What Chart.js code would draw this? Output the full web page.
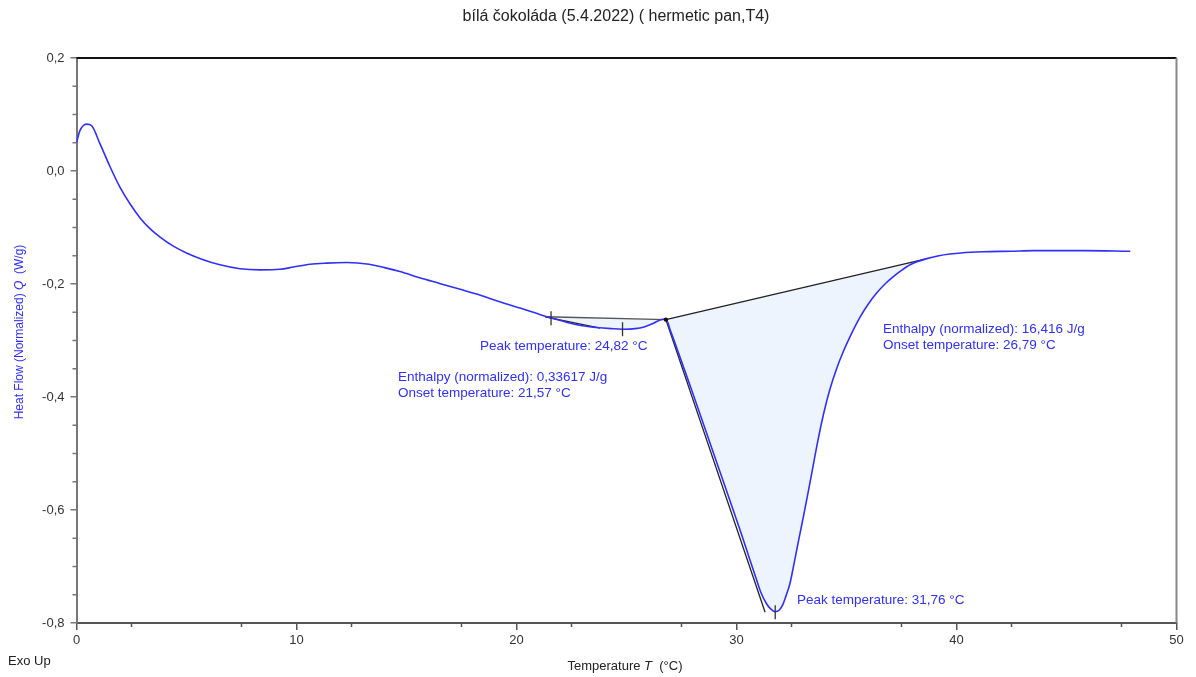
<!DOCTYPE html>
<html>
<head>
<meta charset="utf-8">
<title>bílá čokoláda DSC</title>
<script src="https://cdn.jsdelivr.net/npm/chart.js@4.4.1/dist/chart.umd.min.js"></script>
<style>
  html, body { margin: 0; padding: 0; background: #fff; }
  canvas { display: block; }
</style>
</head>
<body>
<canvas id="dscChart" width="1196" height="677"></canvas>
<script>
(function() {

    // DSC run: temperature (°C) and normalized heat flow (W/g)
    const temps = [0, 0.15, 0.3, 0.46, 0.69, 1.07, 1.52, 1.98, 2.43, 2.89, 3.34, 3.8, 4.4, 5.0, 5.76, 6.52, 7.43, 8.34, 9.25, 9.86,
        10.61, 11.37, 12.28, 13.3, 14.0, 14.7, 15.6, 16.5, 17.4, 18.3, 19.2, 20.2, 21.0, 21.3, 21.57, 22.3, 23.0, 23.64, 24.3, 24.82,
        25.4, 25.8, 26.2, 26.5, 26.79, 27.0, 27.3, 27.6, 28.0, 28.65, 29.2, 29.7, 30.2, 30.6, 30.9, 31.1, 31.35, 31.55, 31.76, 31.95,
        32.1, 32.25, 32.43, 32.58, 32.74, 32.89, 33.05, 33.19, 33.42, 33.65, 33.8, 34.0, 34.25, 34.55, 34.85, 35.2, 35.61, 36.0, 36.37, 36.75,
        37.13, 37.5, 37.89, 38.25, 38.57, 39.2, 39.7, 40.2, 41.2, 42.5, 43.5, 45.8, 47.9];
    const heatFlow = [0.050, 0.071, 0.080, 0.083, 0.080, 0.048, 0.008, -0.029, -0.058, -0.083, -0.102, -0.117, -0.133, -0.145, -0.157, -0.166, -0.173, -0.175, -0.174, -0.170,
        -0.165, -0.163, -0.162, -0.165, -0.171, -0.178, -0.189, -0.199, -0.209, -0.219, -0.231, -0.243, -0.253, -0.257, -0.260, -0.268, -0.274, -0.277, -0.279, -0.280,
        -0.279, -0.276, -0.270, -0.264, -0.262, -0.283, -0.315, -0.348, -0.392, -0.465, -0.527, -0.583, -0.640, -0.687, -0.722, -0.745, -0.765, -0.775, -0.780, -0.777,
        -0.768, -0.752, -0.730, -0.702, -0.670, -0.641, -0.610, -0.582, -0.535, -0.487, -0.458, -0.423, -0.386, -0.350, -0.320, -0.290, -0.259, -0.235, -0.216, -0.200,
        -0.187, -0.176, -0.166, -0.160, -0.156, -0.150, -0.147, -0.145, -0.143, -0.142, -0.141, -0.141, -0.142];

    // evaluation results for the two endotherms
    const peakTemps = [24.82, 31.76];
    const peakFlow = [-0.280, -0.781];
    const onsetTemps = [21.57, 26.79];
    const onsetFlow = [-0.2605, -0.263];
    const enthalpies = [0.33617, 16.416];

    // integration baselines and onset tangents
    const baseSmallT = [21.3, 26.79];
    const baseSmallQ = [-0.258, -0.263];
    const baseBigT = [26.79, 38.57];
    const baseBigQ = [-0.263, -0.156];
    const tanSmallT = [21.3, 23.8];
    const tanSmallQ = [-0.258, -0.278];
    const tanBigT = [26.79, 31.3];
    const tanBigQ = [-0.263, -0.781];

    const xTickValues = [0, 10, 20, 30, 40, 50];
    const yTickValues = [-0.8, -0.6, -0.4, -0.2, 0, 0.2];

    const FONT = "'Liberation Sans', Arial, sans-serif";
    const BLUE = '#2f2fff';
    const FILL = '#edf4fd';

    const pts = (xs, ys) => xs.map((x, i) => ({ x: x, y: ys[i] }));
    const between = (lo, hi) => pts(temps, heatFlow).filter(p => p.x >= lo && p.x <= hi);
    const comma = (v, d) => v.toFixed(d).replace('.', ',');

    const lineDs = (data, color, width, order) => ({
        data: data,
        borderColor: color,
        borderWidth: width,
        pointRadius: 0,
        fill: false,
        order: order
    });

    // text placed in data units: [x °C, y W/g]
    const notes = [
        { at: [18.34, -0.310], text: 'Peak temperature: ' + comma(peakTemps[0], 2) + ' °C' },
        { at: [14.61, -0.3655], text: 'Enthalpy (normalized): ' + comma(enthalpies[0], 5) + ' J/g' },
        { at: [14.61, -0.393], text: 'Onset temperature: ' + comma(onsetTemps[0], 2) + ' °C' },
        { at: [36.66, -0.2796], text: 'Enthalpy (normalized): ' + comma(enthalpies[1], 3) + ' J/g' },
        { at: [36.66, -0.308], text: 'Onset temperature: ' + comma(onsetTemps[1], 2) + ' °C' },
        { at: [32.75, -0.760], text: 'Peak temperature: ' + comma(peakTemps[1], 2) + ' °C' }
    ];

    // centred text made of normal / italic runs
    function drawParts(ctx, parts, size) {
        ctx.textAlign = 'left';
        let w = 0;
        parts.forEach(p => {
            ctx.font = (p[1] ? 'italic ' : '') + size + 'px ' + FONT;
            w += ctx.measureText(p[0]).width;
        });
        let x = -w / 2;
        parts.forEach(p => {
            ctx.font = (p[1] ? 'italic ' : '') + size + 'px ' + FONT;
            ctx.fillText(p[0], x, 0);
            x += ctx.measureText(p[0]).width;
        });
    }

    const frame = {
        id: 'frame',
        afterDraw(chart) {
            const ctx = chart.ctx;
            const a = chart.chartArea;
            const xs = chart.scales.x;
            const ys = chart.scales.y;
            ctx.save();

            // top and right edges of the plot box
            ctx.lineWidth = 2;
            ctx.strokeStyle = '#111';
            ctx.beginPath();
            ctx.moveTo(a.left, a.top);
            ctx.lineTo(a.right, a.top);
            ctx.stroke();
            ctx.strokeStyle = '#888';
            ctx.beginPath();
            ctx.moveTo(a.right, a.top);
            ctx.lineTo(a.right, a.bottom);
            ctx.stroke();

            // minor ticks
            ctx.lineWidth = 1.5;
            ctx.strokeStyle = '#555';
            for (let v = 2.5; v < 50; v += 5) {
                const px = xs.getPixelForValue(v);
                ctx.beginPath();
                ctx.moveTo(px, a.bottom);
                ctx.lineTo(px, a.bottom + 4);
                ctx.stroke();
            }
            ctx.strokeStyle = '#777';
            for (let i = 0; i < yTickValues.length - 1; i++) {
                for (let k = 1; k < 4; k++) {
                    const py = ys.getPixelForValue(yTickValues[i] + k * 0.05);
                    ctx.beginPath();
                    ctx.moveTo(a.left - 4, py);
                    ctx.lineTo(a.left, py);
                    ctx.stroke();
                }
            }

            // title
            ctx.fillStyle = '#222';
            ctx.textAlign = 'center';
            ctx.textBaseline = 'middle';
            ctx.font = '16px ' + FONT;
            ctx.fillText('bílá čokoláda (5.4.2022) ( hermetic pan,T4)', 616, 17);

            // axis titles
            ctx.save();
            ctx.translate(625, 666);
            drawParts(ctx, [['Temperature ', false], ['T', true], ['  (°C)', false]], 13);
            ctx.restore();

            ctx.save();
            ctx.fillStyle = BLUE;
            ctx.translate(20, 332);
            ctx.rotate(-Math.PI / 2);
            drawParts(ctx, [['Heat Flow (Normalized) ', false], ['Q', true], ['  (W/g)', false]], 12);
            ctx.restore();

            ctx.textAlign = 'left';
            ctx.font = '13px ' + FONT;
            ctx.fillText('Exo Up', 8, 661);

            // evaluation notes
            ctx.fillStyle = BLUE;
            ctx.font = '13.5px ' + FONT;
            notes.forEach(n => {
                ctx.fillText(n.text, xs.getPixelForValue(n.at[0]), ys.getPixelForValue(n.at[1]));
            });

            ctx.restore();
        }
    };

    new Chart(document.getElementById('dscChart'), {
        type: 'line',
        data: {
            datasets: [
                {
                    data: between(baseSmallT[0], baseSmallT[1]),
                    borderColor: 'rgba(0,0,0,0)',
                    borderWidth: 0,
                    pointRadius: 0,
                    cubicInterpolationMode: 'monotone',
                    backgroundColor: FILL,
                    fill: { target: 2 },
                    order: 20
                },
                {
                    data: between(baseBigT[0], baseBigT[1]),
                    borderColor: 'rgba(0,0,0,0)',
                    borderWidth: 0,
                    pointRadius: 0,
                    cubicInterpolationMode: 'monotone',
                    backgroundColor: FILL,
                    fill: { target: 3 },
                    order: 19
                },
                lineDs(pts(baseSmallT, baseSmallQ), '#555', 1.3, 6),
                lineDs(pts(baseBigT, baseBigQ), '#222', 1.3, 6),
                lineDs(pts(tanSmallT, tanSmallQ), '#222', 1.3, 6),
                lineDs(pts(tanBigT, tanBigQ), '#222', 1.3, 6),
                {
                    data: pts(temps, heatFlow),
                    borderColor: BLUE,
                    borderWidth: 1.6,
                    pointRadius: 0,
                    cubicInterpolationMode: 'monotone',
                    fill: false,
                    order: 3
                },
                {
                    // peak and first onset markers
                    data: pts(peakTemps.concat([onsetTemps[0]]), peakFlow.concat([onsetFlow[0]])),
                    showLine: false,
                    pointStyle: 'line',
                    rotation: 90,
                    pointRadius: 7,
                    borderColor: '#333',
                    borderWidth: 1.3,
                    order: 1
                },
                {
                    data: pts([onsetTemps[1]], [onsetFlow[1]]),
                    showLine: false,
                    pointStyle: 'circle',
                    pointRadius: 2.2,
                    backgroundColor: '#111',
                    borderColor: '#111',
                    borderWidth: 0,
                    order: 1
                }
            ]
        },
        options: {
            responsive: false,
            animation: false,
            devicePixelRatio: 1,
            layout: { padding: { top: 58, right: 19.5, left: 0, bottom: 0 } },
            plugins: {
                legend: { display: false },
                tooltip: { enabled: false },
                title: { display: false }
            },
            scales: {
                x: {
                    type: 'linear',
                    min: 0,
                    max: 50,
                    afterBuildTicks: s => { s.ticks = xTickValues.map(v => ({ value: v })); },
                    afterFit: s => { s.height = 54; },
                    ticks: {
                        color: '#333',
                        font: { family: FONT, size: 13 },
                        padding: 3,
                        maxRotation: 0,
                        autoSkip: false
                    },
                    grid: { drawOnChartArea: false, tickLength: 7, color: '#555', lineWidth: 1.5 },
                    border: { color: '#555', width: 2 }
                },
                y: {
                    type: 'linear',
                    min: -0.8,
                    max: 0.2,
                    afterBuildTicks: s => { s.ticks = yTickValues.map(v => ({ value: v })); },
                    afterFit: s => { s.width = 76.5; },
                    ticks: {
                        color: '#333',
                        font: { family: FONT, size: 13 },
                        padding: 6,
                        callback: v => Math.abs(v) < 1e-9 ? '0,0' : comma(v, 1)
                    },
                    grid: { drawOnChartArea: false, tickLength: 6, color: '#777', lineWidth: 1.5 },
                    border: { color: '#777', width: 2 }
                }
            }
        },
        plugins: [frame]
    });

})();
</script>
</body>
</html>
